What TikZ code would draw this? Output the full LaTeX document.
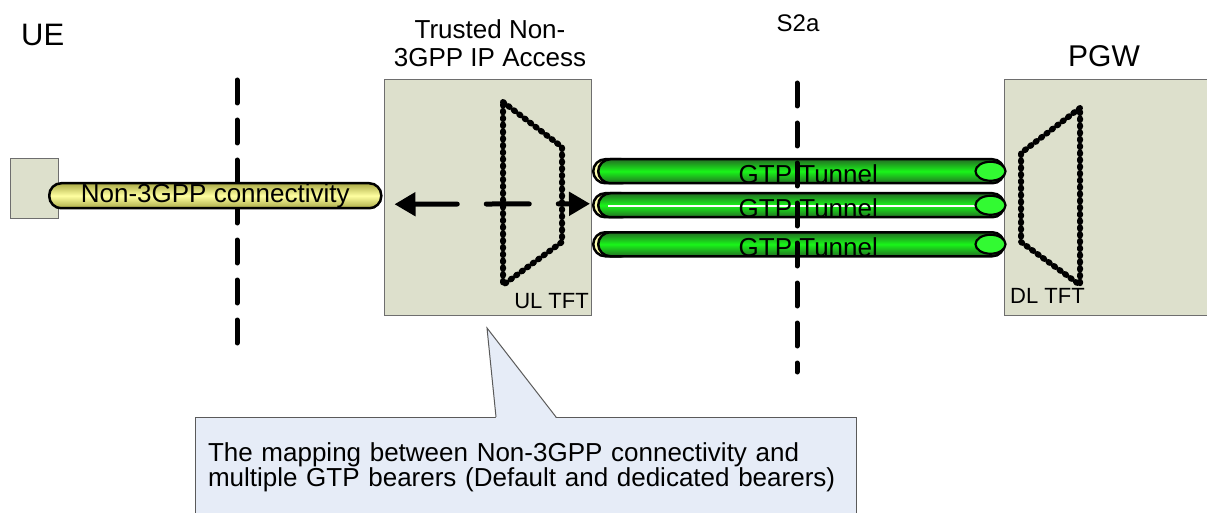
\documentclass[tikz,border=0pt]{standalone}
\usepackage{fontspec}
\setmainfont{Liberation Sans}
\usetikzlibrary{arrows.meta,shapes.geometric}

\definecolor{boxfill}{RGB}{221,224,204}
\definecolor{boxline}{RGB}{110,110,110}
\definecolor{notefill}{RGB}{230,236,247}
\definecolor{noteline}{RGB}{90,90,90}
\definecolor{pipehi}{RGB}{255,255,160}
\definecolor{pipelo}{RGB}{170,170,70}
\definecolor{capyellow}{RGB}{255,255,175}
\definecolor{tunhi}{RGB}{25,245,25}
\definecolor{tunlo}{RGB}{35,110,35}
\definecolor{capgreen}{RGB}{50,250,50}

\tikzset{
  entity/.style={draw=boxline, fill=boxfill, line width=1.2pt, anchor=north west, inner sep=0pt},
  yellowpipe/.style={draw=black, line width=2.5pt, rounded corners=12pt, anchor=north west,
    inner sep=0pt, top color=pipelo, bottom color=pipelo, middle color=pipehi,
    font=\fontsize{26}{26}\selectfont},
  tunnelcap/.style={draw=black, line width=2.5pt, rounded corners=12pt, anchor=north west,
    inner sep=0pt, fill=capyellow, minimum width=40pt, minimum height=24pt},
  tunnelbody/.style={draw=black, line width=2.5pt, rounded corners=12pt, anchor=north west,
    inner sep=0pt, top color=tunlo, bottom color=tunlo, middle color=tunhi,
    minimum width=406pt, minimum height=24pt},
  tunnelend/.style={ellipse, draw=black, line width=2.2pt, fill=capgreen, inner sep=0pt,
    minimum width=30pt, minimum height=19pt},
  tunneltext/.style={inner sep=0pt, font=\fontsize{26}{26}\selectfont},
  tftline/.style={draw=black, line width=6pt, line cap=round, line join=round,
    dash pattern=on 1.5pt off 5.3pt},
  refpoint/.style={draw=black, line width=5pt, line cap=round, dash pattern=on 23pt off 17pt},
  maparrow/.style={draw=black, line width=5pt, line cap=round, dash pattern=on 43pt off 29pt,
    {Triangle[length=21pt,width=23pt]}-{Triangle[length=21pt,width=23pt]}},
  title/.style={inner sep=0pt, anchor=base},
  notebox/.style={draw=noteline, fill=notefill, line width=1pt, anchor=north west,
    inner sep=0pt, minimum width=661pt, minimum height=100pt, text width=646pt, align=left,
    font=\fontsize{26}{25}\selectfont},
}

\begin{document}
\begin{tikzpicture}[x=1pt,y=-1pt]
\useasboundingbox (0,0) rectangle (1207,513);
\clip (0,0) rectangle (1207,513);

% network entities
\node[entity, minimum width=48pt, minimum height=60pt] (ue) at (10,158) {};
\node[entity, minimum width=207pt, minimum height=236pt] (tna) at (384,79) {};
\node[entity, minimum width=230pt, minimum height=236pt] (pgw) at (1004,79) {};

% entity titles
\node[title, anchor=base west, font=\fontsize{31}{31}\selectfont] (uelbl) at (21,46) {UE};
\node[title, align=center, font=\fontsize{26}{28}\selectfont] (tnalbl) at (490,67) {Trusted Non-\\3GPP IP Access};
\node[title, font=\fontsize{24}{24}\selectfont] (s2alabel) at (798,32) {S2a};
\node[title, font=\fontsize{30}{30}\selectfont] (pgwlbl) at (1104,67) {PGW};

% traffic flow templates
\draw[tftline] (503,102) -- (562,147) -- (562,242) -- (503,285) -- cycle;
\draw[tftline] (1080,108) -- (1021,153) -- (1021,242) -- (1080,285) -- cycle;
\node[inner sep=0pt, anchor=base east, font=\fontsize{22}{22}\selectfont] (ultft) at (589,308) {UL TFT};
\node[inner sep=0pt, anchor=base west, font=\fontsize{22}{22}\selectfont] (dltft) at (1010,303) {DL TFT};

% reference point between UE and access network
\draw[refpoint] (237,80) -- (237,355);

% Non-3GPP connectivity
\node[yellowpipe, minimum width=332pt, minimum height=25pt] (n3g) at (48,182) {Non-3GPP connectivity};

% GTP tunnels over S2a
\foreach \n/\y in {1/158, 2/192, 3/231}{
  \node[tunnelcap] (c\n) at (592,\y) {};
  \node[tunnelbody] (t\n) at (597,\y) {};
}
\draw[white, line width=2pt] (608,206) -- (975,206);
\foreach \n in {1,2,3}{
  \node[tunnelend] (e\n) at ([xshift=-15pt]t\n.east) {};
  \node[tunneltext] (g\n) at ([xshift=7pt,yshift=-3pt]t\n.center) {GTP Tunnel};
}

% S2a reference point
\draw[refpoint] (797,83) -- (797,372);

% mapping inside the access network
\coordinate (al) at ([xshift=12pt,yshift=-8.5pt]n3g.east);
\coordinate (ar) at ([xshift=-2pt,yshift=1.5pt]c2.west);
\draw[maparrow] (al) -- (ar);

% explanatory callout
\node[notebox] (note) at (195,417) {\hspace*{5pt}The mapping between Non-3GPP connectivity and\\\hspace*{5pt}multiple GTP bearers (Default and dedicated bearers)};
\fill[notefill] (496,418.2) -- (487,328) -- (556,418.2) -- cycle;
\draw[noteline, line width=1pt] (496,417) -- (487,328) -- (556,417);
\end{tikzpicture}
\end{document}
